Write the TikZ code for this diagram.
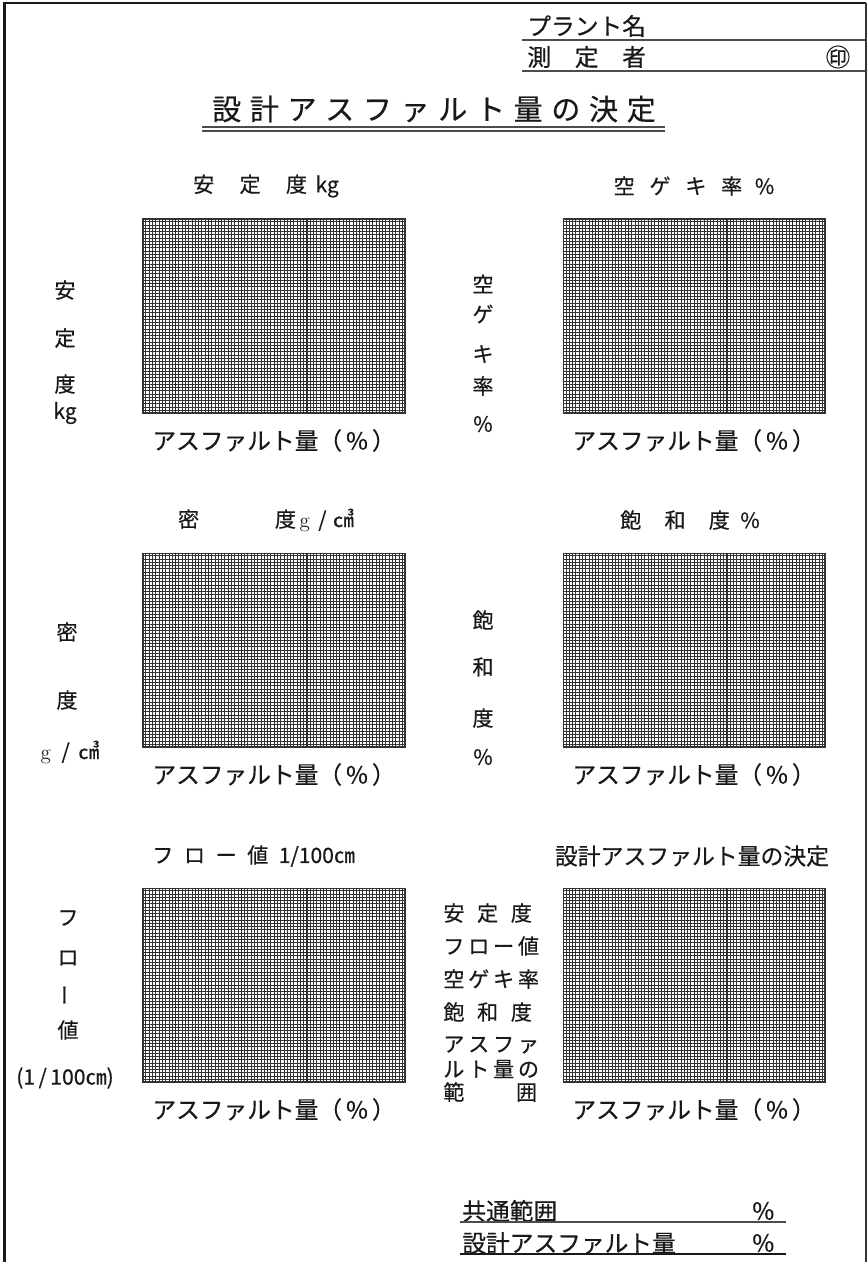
\documentclass[tikz,border=0pt]{standalone}
\usepackage{fontspec}
\newfontfamily\jpfont{Noto Sans CJK JP}[FakeBold=0.5]
\usetikzlibrary{positioning,calc}

\begin{document}
\begin{tikzpicture}[x=0.02cm,y=-0.02cm,
  every node/.style={inner sep=0pt,text=black!90},
  paper/.style={draw=black!80,line width=0.6pt,minimum width=5.24cm,minimum height=3.88cm},
  minor/.style={black!80,line width=0.33pt},
  major/.style={black!85,line width=0.5pt},
  rule/.style={black!70,line width=0.9pt},
  head/.style={font=\jpfont\fontsize{12}{14}\selectfont},
  side/.style={font=\jpfont\fontsize{12}{14}\selectfont},
  axis/.style={font=\jpfont\fontsize{13.5}{15}\selectfont},
  form/.style={font=\jpfont\fontsize{13.5}{15}\selectfont,anchor=west}
]
\useasboundingbox (0,0) rectangle (868,1262);
% frame of the sheet
\draw[black!90,line width=1.6pt] (4.5,1262) -- (4.5,3) -- (866,3);
\draw[black!80,line width=0.9pt] (866,3) -- (866,1262);

% header
\node[form] (plant) at (527,26) {プラント名};
\node[form] (tester) at (527,57) {測\hspace{1em}定\hspace{1em}者};
\node[font=\jpfont\fontsize{14}{16}\selectfont] (seal) at (838,57) {㊞};
\draw[rule] (522,40) -- (865,40);
\draw[rule] (522,71) -- (865,71);

% title
\node[font=\jpfont\fontsize{16.5}{18}\selectfont\addfontfeatures{LetterSpace=30}] (title) at (434,109) {設計アスファルト量の決定};
\draw[rule] (202,127) -- (665,127);
\draw[rule,line width=1.2pt] (202,131) -- (665,131);

% graph papers
\node[paper] (g1) at (274,316) {};
\node[paper] (g2) at (694,316) {};
\node[paper] (g3) at (274,650) {};
\node[paper] (g4) at (694,650) {};
\node[paper] (g5) at (274,985) {};
\node[paper] (g6) at (694,985) {};
\foreach \g in {g1,g2,g3,g4,g5,g6}{
  \foreach \i in {1,...,79}
    \draw[minor] ($(\g.north west)!\i/80!(\g.north east)$) -- ($(\g.south west)!\i/80!(\g.south east)$);
  \foreach \j in {1,...,59}
    \draw[minor] ($(\g.north west)!\j/60!(\g.south west)$) -- ($(\g.north east)!\j/60!(\g.south east)$);
  \foreach \i in {10,20,...,70}
    \draw[major] ($(\g.north west)!\i/80!(\g.north east)$) -- ($(\g.south west)!\i/80!(\g.south east)$);
  \foreach \j in {10,20,...,50}
    \draw[major] ($(\g.north west)!\j/60!(\g.south west)$) -- ($(\g.north east)!\j/60!(\g.south east)$);
  \node[axis,below=27*0.02cm of \g.south,anchor=center] (x\g) {アスファルト量（\,\%\,）};
}

% headings
\node[head] (h1) at (266,186) {安\hspace{1.2em}定\hspace{1.2em}度\hspace{0.4em}kg};
\node[head] (h2) at (694,186) {空\hspace{0.7em}ゲ\hspace{0.7em}キ\hspace{0.7em}率\hspace{0.6em}\%};
\node[head] (h3) at (266,520) {密\hspace{3.6em}度\,{\rmfamily g}\hspace{0.4em}/\hspace{0.3em}㎤};
\node[head] (h4) at (690,520) {飽\hspace{1.1em}和\hspace{1.1em}度\hspace{0.5em}\%};
\node[head,anchor=west] (h5) at (152,856) {フ\hspace{0.5em}ロ\hspace{0.5em}ー\hspace{0.5em}値\hspace{0.5em}1/100㎝};
\node[head,font=\jpfont\fontsize{13}{15}\selectfont] (h6) at (692,856) {設計アスファルト量の決定};

% side labels
\foreach \t/\y [count=\k] in {安/290,定/338,度/384,kg/413}
  \node[side] (sa\k) at (65,\y) {\t};
\foreach \t/\y [count=\k] in {空/284,ゲ/314,キ/354,率/386,\%/424}
  \node[side] (sb\k) at (483,\y) {\t};
\foreach \t/\y [count=\k] in {密/632,度/700}
  \node[side] (sc\k) at (67,\y) {\t};
\node[side] (sc3) at (70,752) {{\rmfamily g}\hspace{0.5em}/\hspace{0.4em}㎤};
\foreach \t/\y [count=\k] in {飽/620,和/667,度/718,\%/757}
  \node[side] (sd\k) at (483,\y) {\t};
\node[side] (se1) at (68,918) {フ};
\node[side] (se2) at (68,958) {ロ};
\node[side,rotate=90] (se3) at (68,995) {ー};
\node[side] (se4) at (68,1030) {値};
\node[side] (se5) at (65,1078) {(1\,/\,100㎝)};

% list of the ranges
\foreach \t/\y [count=\k] in {{安\hspace{0.6em}定\hspace{0.6em}度}/913,フロー値/946,空ゲキ率/979,{飽\hspace{0.6em}和\hspace{0.6em}度}/1012,アスファ/1045,ルト量の/1069,{範\hspace{2.45em}囲}/1092}
  \node[side,anchor=west,font=\jpfont\fontsize{12}{14}\selectfont\addfontfeatures{LetterSpace=18}] (sf\k) at (443,\y) {\t};

% result fields
\node[form] (common) at (462,1211) {共通範囲};
\node[form] (cpct) at (752,1211) {\%};
\draw[rule] (460,1222) -- (786,1222);
\node[form] (design) at (462,1243) {設計アスファルト量};
\node[form] (dpct) at (752,1243) {\%};
\draw[rule,black!90] (460,1254) -- (786,1254);
\end{tikzpicture}
\end{document}
